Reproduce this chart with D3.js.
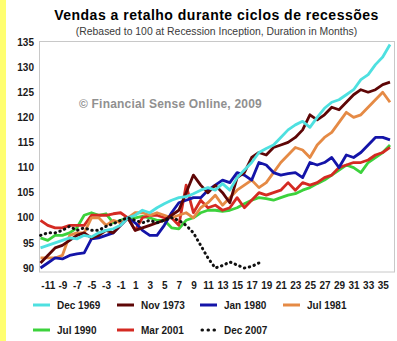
<!DOCTYPE html>
<html><head><meta charset="utf-8">
<script src="https://cdn.jsdelivr.net/npm/d3@7"></script>
<style>body{margin:0;background:#fff;}svg{display:block;font-family:"Liberation Sans",Arial,sans-serif;}</style>
</head><body><svg id="c" width="397" height="341"></svg>
<script>
const months = d3.range(-12, 37);
const xTicks = d3.range(-11, 36, 2);
const yTicks = [90, 95, 100, 105, 110, 115, 120, 125, 130, 135];
const seriesNames = ["Dec 1969", "Nov 1973", "Jan 1980", "Jul 1981", "Jul 1990", "Mar 2001", "Dec 2007"];
const dec1969 = [94,94.5,95,95.5,96,95.8,96.5,96.2,97,97.5,97.8,98.5,100,
  100.5,101.5,101,102,102.8,103.5,104,104.2,104.8,105.5,106,105.5,106.8,105.5,108,109.5,111,113,
  113.8,114.5,116,117.5,118.5,119.2,118,120,121.8,123,123.5,124.5,125.5,127.5,128.5,130.5,132,134.5];
const nov1973 = [91,92.5,94,94.5,95.5,96.5,97,96,96.5,97.5,97,98.5,100,
  97.5,98,98.5,99,99.5,100.5,101.5,105,108.5,106.5,105,106.5,105,103,108,109,112,113,
  112.5,114,114.5,115,116,117.5,120.5,119.5,120.5,122,121.5,123,124.5,125.5,125,125.5,126.5,127];
const jan1980 = [90,91,92,91.8,92.5,92.8,93,95.8,96,96.5,97,98.5,100,
  99,97.5,96.5,96.5,98.5,101,103,103.5,104,104,105.5,106.5,107.5,107,109,108.5,107.5,111,
  110.5,109,108.5,108.8,109,108,111,110.5,111,112,110,112.5,112,113,114.5,116,116,115.5];
const jul1981 = [92,92,92,92.5,96.5,97,97,100,100,98.5,99.5,99,100,
  101,101,100.5,101,100.5,100,100.5,101,100,102,103,104.5,102.5,104,105.5,106.5,107.5,106,
  107,109,111,112.5,114,113.5,112,114.5,116,117,119,121,120,120.5,122,123.5,125,123];
const jul1990 = [96,95.5,96.5,96.5,97,98,100.5,101,100.5,100.8,99,99.5,100,
  100,100.3,100,99.5,99.5,98,97.8,99.5,100,101,101.5,101.5,101.3,101.5,102,102.8,103.5,104,
  103.8,103.5,104,104.5,104.8,105.5,106,106.8,107.5,108.5,109.5,110.5,110,109,111,112,113,114.5];
const mar2001 = [99.5,98.5,98,98,98.5,98.5,98.5,100.5,100.5,100.5,100.8,101,100,
  97.5,100,100.5,100.5,100,100,98.5,106.5,101,103.5,102,102.5,101.5,102,104,102,103.5,105,
  104.5,105,105.5,107,105.5,107,106.5,107,108,108.5,110,110.5,111,111,111.5,112.5,113,114];
const dec2007 = [96.5,97,97,97.5,98.3,97.5,98,97.5,97.5,98.3,98.8,99.5,100,
  99.5,99,99.5,99,99.5,100,99.5,98.5,97,94.5,92,90,90.5,91.2,90.6,90,90.3,91];
const colors = ["#4EE0E0", "#5E0606", "#1414A8", "#E58A45", "#3CD23C", "#D42A22", "#111111"];
const allSeries = [dec1969, nov1973, jan1980, jul1981, jul1990, mar2001, dec2007];

const svg = d3.select("#c");
svg.append("rect").attr("x",0).attr("y",0).attr("width",6).attr("height",341).attr("fill","#FFFF70");

const x = d3.scaleLinear().domain([-12, 36]).range([40.5, 390]);
const y = d3.scaleLinear().domain([90, 135]).range([268, 42]);

svg.append("rect").attr("x",39.5).attr("y",41.5).attr("width",355).attr("height",230.5)
  .attr("fill","#fff").attr("stroke","#c8c8c8").attr("stroke-width",1);

svg.append("text").attr("x",216.5).attr("y",20).attr("text-anchor","middle")
  .attr("font-size","14px").attr("font-weight","bold").attr("letter-spacing","0.5px").attr("fill","#000")
  .text("Vendas a retalho durante ciclos de recessões");
svg.append("text").attr("x",216.5).attr("y",35).attr("text-anchor","middle")
  .attr("font-size","10.4px").attr("fill","#3a3a3a")
  .text("(Rebased to 100 at Recession Inception, Duration in Months)");

svg.append("text").attr("x",79).attr("y",107.5).attr("font-size","12px").attr("font-weight","bold")
  .attr("letter-spacing","0.2px").attr("fill","#909090").text("© Financial Sense Online, 2009");

// y axis labels
const yAxis = d3.axisLeft(y).tickValues(yTicks).tickSize(0).tickPadding(5).tickFormat(d => String(d));
const gy = svg.append("g").attr("transform","translate(39,0)").call(yAxis);
gy.select(".domain").remove();
gy.selectAll("text").attr("font-size","10px").attr("font-weight","bold").attr("fill","#1a1a1a")
  .attr("font-family","'Liberation Sans',Arial,sans-serif");

// x axis labels
const xAxis = d3.axisBottom(x).tickValues(xTicks).tickSize(0).tickPadding(10).tickFormat(d => String(d));
const gx = svg.append("g").attr("transform","translate(0,272)").call(xAxis);
gx.select(".domain").remove();
gx.selectAll("text").attr("font-size","10px").attr("font-weight","bold").attr("fill","#1a1a1a")
  .attr("font-family","'Liberation Sans',Arial,sans-serif");

const line = d3.line().x((d,i)=>x(months[i])).y(d=>y(d));
const order = [4, 5, 3, 2, 1, 0, 6];
order.forEach(k=>{
  const p = svg.append("path").datum(allSeries[k]).attr("d", line).attr("fill","none")
    .attr("stroke", colors[k]).attr("stroke-width", 2.8).attr("stroke-linejoin","round");
  if (k === 6) p.attr("stroke-width",3).attr("stroke-dasharray","0.5,4.5").attr("stroke-linecap","round");
});

// legend
const legPos = [[33,305],[117,305],[200,305],[283,305],[33,330],[117,330],[200,330]];
seriesNames.forEach((n,k)=>{
  const [lx, ly] = legPos[k];
  const l = svg.append("line").attr("x1",lx).attr("x2",lx+17).attr("y1",ly).attr("y2",ly)
    .attr("stroke",colors[k]).attr("stroke-width",3);
  if (k === 6) l.attr("stroke-dasharray","0.5,5.5").attr("stroke-linecap","round").attr("x1",lx+2).attr("x2",lx+15);
  svg.append("text").attr("x",lx+24).attr("y",ly+3.6).attr("font-size","10px").attr("font-weight","bold")
    .attr("fill","#1a1a1a").text(n);
});
</script></body></html>
